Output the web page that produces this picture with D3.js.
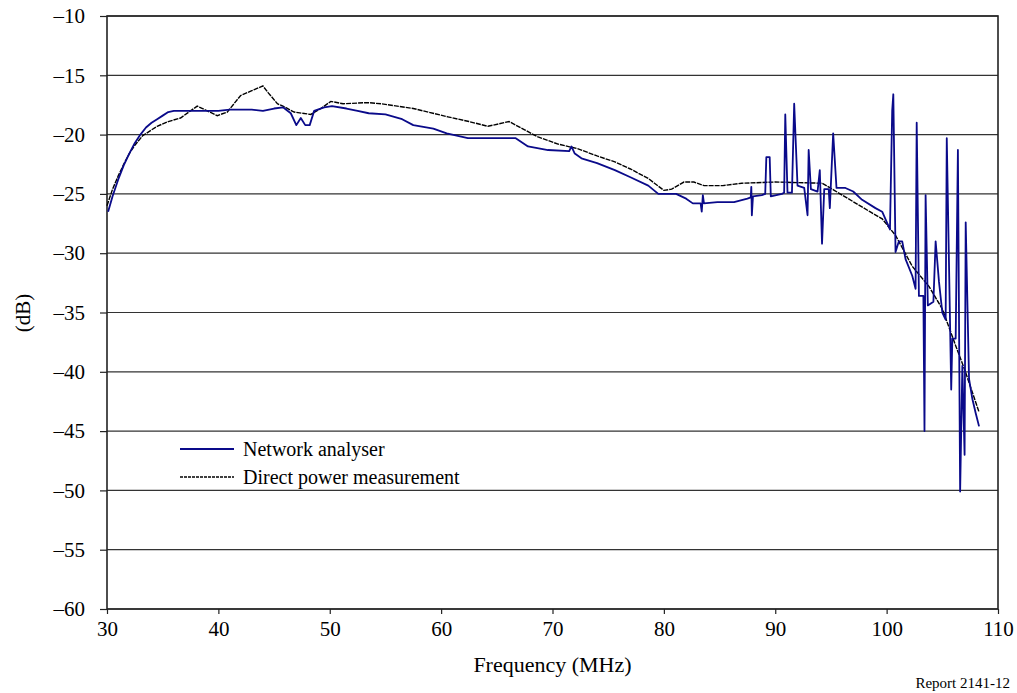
<!DOCTYPE html>
<html>
<head>
<meta charset="utf-8">
<script src="https://cdn.jsdelivr.net/npm/d3@7"></script>
<style>
	body { margin: 0; background: #fff; }
	svg text { fill: #000; }
</style>
</head>
<body>
<div id="chart"></div>
<script>
// Network analyser (blue) : frequency (MHz) and level (dB)
var naFreq = [30.1, 30.5, 31.0, 31.5, 32.0, 32.5, 33.0, 33.5, 34.0, 34.5, 35.0, 35.5, 36.0, 38.0, 40.0, 41.0, 43.0, 44.0, 45.0, 45.8,
	46.5, 47.0, 47.4, 47.8, 48.2, 48.6, 49.5, 50.2, 51.5, 52.5, 53.5, 55.0, 56.5, 57.5, 59.3, 60.5, 62.4, 66.7, 67.8, 69.6,
	71.5, 71.7, 72.0, 72.6, 74.0, 75.6, 77.0, 78.6, 79.5, 81.1, 82.0, 82.6, 83.3, 83.4, 83.5, 83.6, 84.8, 86.3, 87.5, 87.8,
	87.85, 87.9, 88.0, 88.8, 89.1, 89.2, 89.5, 89.6, 90.6, 90.8, 90.9, 91.1, 91.5, 91.7, 92.0, 92.6, 92.9, 93.0, 93.2, 93.8,
	94.0, 94.2, 94.4, 94.8, 94.9, 95.2, 95.5, 96.3, 97.0, 97.8, 99.0, 99.6, 100.3, 100.5, 100.6, 100.8, 101.1, 101.4, 101.7, 102.3,
	102.6, 102.7, 102.9, 103.3, 103.4, 103.5, 103.7, 104.2, 104.4, 104.7, 105.0, 105.3, 105.4, 105.8, 105.9, 106.2, 106.4, 106.6, 106.8, 107.0,
	107.1, 107.4, 107.7, 108.0, 108.3];
var naLevel = [-26.5, -25.2, -23.8, -22.6, -21.6, -20.7, -20.0, -19.4, -19.0, -18.7, -18.4, -18.1, -18.0, -18.0, -18.0, -17.9, -17.9, -18.0, -17.8, -17.7,
	-18.2, -19.2, -18.6, -19.2, -19.2, -18.0, -17.7, -17.6, -17.8, -18.0, -18.2, -18.3, -18.7, -19.2, -19.5, -19.9, -20.3, -20.3, -21.0, -21.3,
	-21.4, -21.0, -21.6, -22.0, -22.4, -23.0, -23.6, -24.3, -25.0, -25.0, -25.4, -25.8, -25.8, -26.5, -25.1, -25.8, -25.7, -25.7, -25.4, -25.3,
	-24.4, -26.8, -25.2, -25.1, -25.0, -21.9, -21.9, -25.2, -25.0, -24.9, -18.3, -24.9, -24.9, -17.4, -24.3, -24.5, -26.8, -21.3, -24.6, -24.8,
	-23.0, -29.2, -24.6, -24.6, -26.2, -19.9, -24.5, -24.5, -24.8, -25.5, -26.2, -26.5, -28.0, -18.0, -16.6, -29.9, -29.0, -29.0, -30.5, -31.9,
	-33.0, -19.0, -33.6, -33.6, -45.0, -25.1, -34.4, -34.1, -29.0, -32.4, -35.0, -35.6, -20.3, -41.5, -37.2, -37.2, -21.3, -50.1, -39.5, -47.0,
	-27.4, -40.6, -42.3, -43.5, -44.6];

// Direct power measurement (black)
var dpFreq = [30.0, 30.5, 31.0, 31.5, 32.0, 32.5, 33.2, 34.0, 34.5, 35.5, 36.6, 37.5, 38.1, 39.0, 39.9, 40.8, 42.0, 43.0, 44.0, 44.5,
	45.3, 45.8, 46.8, 48.3, 49.2, 50.1, 51.2, 53.4, 54.6, 57.5, 60.6, 62.5, 64.2, 66.1, 67.5, 68.7, 70.5, 72.3, 74.0, 75.6,
	77.0, 78.6, 80.0, 80.7, 81.8, 82.7, 83.6, 85.3, 87.0, 90.0, 94.2, 95.3, 96.9, 98.5, 99.6, 100.8, 102.3, 103.8, 105.0, 106.2,
	107.0, 108.3];
var dpLevel = [-26.0, -24.6, -23.5, -22.5, -21.6, -20.9, -20.1, -19.6, -19.3, -18.9, -18.6, -18.0, -17.6, -18.0, -18.4, -18.1, -16.7, -16.3, -15.9, -16.5,
	-17.4, -17.6, -18.1, -18.3, -17.8, -17.2, -17.4, -17.3, -17.4, -17.8, -18.5, -18.9, -19.3, -18.9, -19.6, -20.2, -20.8, -21.2, -21.8, -22.3,
	-22.9, -23.7, -24.7, -24.6, -24.0, -24.0, -24.3, -24.3, -24.1, -24.0, -24.1, -24.7, -25.6, -26.5, -27.1, -28.5, -31.1, -32.8, -34.7, -37.8,
	-39.8, -43.4];

var xTicks = [30, 40, 50, 60, 70, 80, 90, 100, 110];
var yTicks = [-10, -15, -20, -25, -30, -35, -40, -45, -50, -55, -60];
var seriesNames = ["Network analyser", "Direct power measurement"];

var W = 1017, H = 693;
var margin = {top: 16, right: 19, bottom: 84, left: 107};
var width = W - margin.left - margin.right,
		height = H - margin.top - margin.bottom;
var serif = "'Liberation Serif', Tinos, 'DejaVu Serif', 'Noto Serif', serif";

var svg = d3.select("#chart").append("svg")
		.attr("width", W)
		.attr("height", H)
		.style("font-family", serif);

var g = svg.append("g")
		.attr("transform", "translate(" + margin.left + "," + margin.top + ")");

var x = d3.scaleLinear().domain([30, 110]).range([0, width]);
var y = d3.scaleLinear().domain([-60, -10]).range([height, 0]);

var fmt = function(d) { return d < 0 ? "\u2013" + Math.abs(d) : "" + d; };

// Grid lines
g.append("g").selectAll("line")
		.data(yTicks)
	.enter().append("line")
		.attr("x1", 0).attr("x2", width)
		.attr("y1", function(d) { return y(d); })
		.attr("y2", function(d) { return y(d); })
		.attr("stroke", "#333")
		.attr("stroke-width", 1.2);

// Axes
var yAxis = d3.axisLeft(y).tickValues(yTicks).tickSize(7).tickPadding(15).tickFormat(fmt);
var xAxis = d3.axisBottom(x).tickValues(xTicks).tickSize(5).tickPadding(5).tickFormat(fmt);

var gy = g.append("g").call(yAxis);
var gx = g.append("g").attr("transform", "translate(0," + height + ")").call(xAxis);

[gx, gy].forEach(function(a) {
	a.attr("font-family", null);
	a.select(".domain").remove();
	a.selectAll(".tick line").attr("stroke", "#222").attr("stroke-width", 1.2);
	a.selectAll("text").style("font-size", "21px").attr("fill", "#000");
});
gx.selectAll("text").attr("dy", "0.8em");

// Frame
g.append("rect")
		.attr("width", width).attr("height", height)
		.attr("fill", "none")
		.attr("stroke", "#222")
		.attr("stroke-width", 1.6);

// Lines
var blue = naFreq.map(function(f, i) { return [f, naLevel[i]]; });
var black = dpFreq.map(function(f, i) { return [f, dpLevel[i]]; });

var line = d3.line()
		.x(function(d) { return x(d[0]); })
		.y(function(d) { return y(d[1]); });

g.append("path")
		.datum(black)
		.attr("d", line)
		.attr("fill", "none")
		.attr("stroke", "#000")
		.attr("stroke-width", 1.4)
		.attr("stroke-dasharray", "5,1");

g.append("path")
		.datum(blue)
		.attr("d", line)
		.attr("fill", "none")
		.attr("stroke", "#0a0a8a")
		.attr("stroke-width", 1.8)
		.attr("stroke-linejoin", "round");

// Legend
var legend = svg.append("g").attr("transform", "translate(180,449)");
var legItems = legend.selectAll("g")
		.data(seriesNames)
	.enter().append("g")
		.attr("transform", function(d, i) { return "translate(0," + i * 28 + ")"; });

legItems.append("line")
		.attr("x1", 0).attr("x2", 54)
		.attr("stroke", function(d, i) { return i === 0 ? "#0a0a8a" : "#000"; })
		.attr("stroke-width", function(d, i) { return i === 0 ? 1.8 : 1.3; })
		.attr("stroke-dasharray", function(d, i) { return i === 0 ? null : "3,1"; });

legItems.append("text")
		.attr("x", 63)
		.attr("dy", "0.33em")
		.style("font-size", "20px")
		.text(function(d) { return d; });

// Axis titles
svg.append("text")
		.attr("x", margin.left + width / 2)
		.attr("y", 672)
		.attr("text-anchor", "middle")
		.style("font-size", "22px")
		.text("Frequency (MHz)");

svg.append("text")
		.attr("transform", "translate(30,313) rotate(-90)")
		.attr("text-anchor", "middle")
		.style("font-size", "21px")
		.text("(dB)");

svg.append("text")
		.attr("x", 1010)
		.attr("y", 688)
		.attr("text-anchor", "end")
		.style("font-size", "15px")
		.text("Report 2141-12");
</script>
</body>
</html>
